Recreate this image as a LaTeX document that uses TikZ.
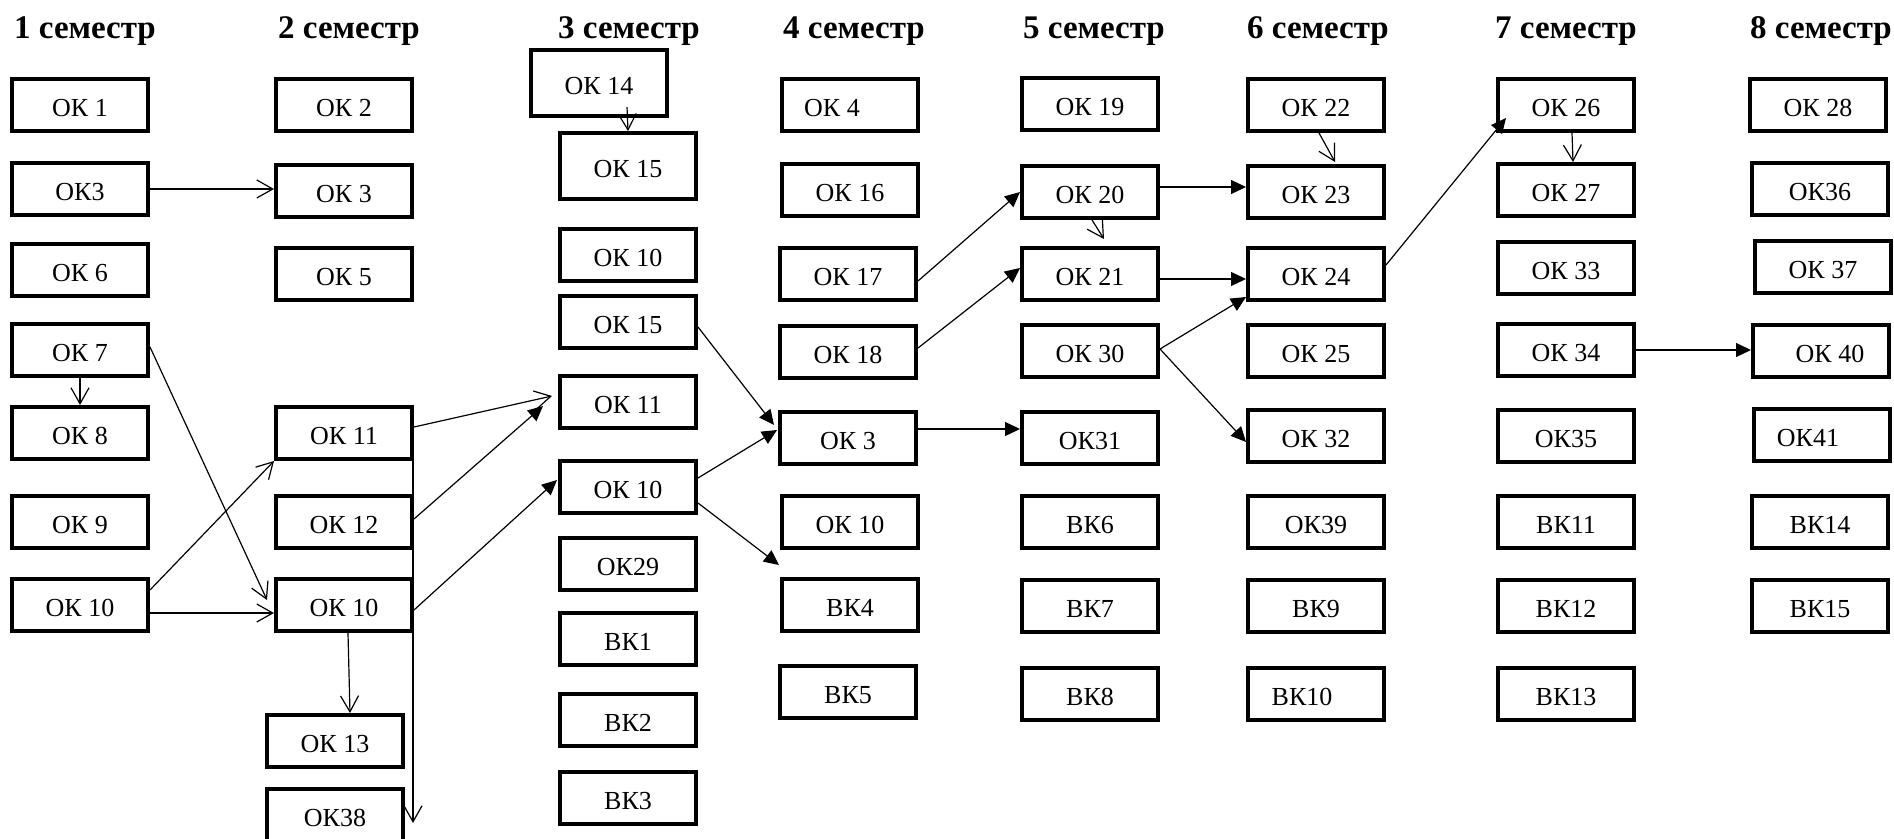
\documentclass[tikz,border=0pt]{standalone}
\usepackage{fontspec}
\setmainfont{Liberation Serif}
\usetikzlibrary{arrows.meta}
\tikzset{course/.style={draw,line width=2.2pt,minimum width=67.8pt,minimum height=25.8pt,
                        inner sep=0pt,font=\fontsize{13}{15}\selectfont,text height=11.6pt,text depth=0pt},
         tall/.style={minimum height=32.8pt},
         semtitle/.style={font=\bfseries\fontsize{16.5}{19}\selectfont,anchor=base,inner sep=0pt},
         barb/.style={line width=0.6pt,-{Straight Barb[length=8pt,width=9pt]}},
         tri/.style={line width=0.6pt,-{Triangle[length=7.5pt,width=7pt]}},
         }
\begin{document}
\begin{tikzpicture}[x=0.5pt,y=-0.5pt]
\useasboundingbox (0,0) rectangle (1894,839);
\node[semtitle] (t1) at (85,39) {1 семестр};
\node[semtitle] (t2) at (349,39) {2 семестр};
\node[semtitle] (t3) at (629,39) {3 семестр};
\node[semtitle] (t4) at (854,39) {4 семестр};
\node[semtitle] (t5) at (1094,39) {5 семестр};
\node[semtitle] (t6) at (1318,39) {6 семестр};
\node[semtitle] (t7) at (1566,39) {7 семестр};
\node[semtitle] (t8) at (1821,39) {8 семестр};

\node[course] (s1n1) at (80,105) {ОК 1};
\node[course] (s1n2) at (80,189) {ОК3};
\node[course] (s1n3) at (80,270) {ОК 6};
\node[course] (s1n4) at (80,350) {ОК 7};
\node[course] (s1n5) at (80,433) {ОК 8};
\node[course] (s1n6) at (80,522) {ОК 9};
\node[course] (s1n7) at (80,605) {ОК 10};

\node[course] (s2n1) at (344,105) {ОК 2};
\node[course] (s2n2) at (344,191) {ОК 3};
\node[course] (s2n3) at (344,274) {ОК 5};
\node[course] (s2n4) at (344,433) {ОК 11};
\node[course] (s2n5) at (344,522) {ОК 12};
\node[course] (s2n6) at (344,605) {ОК 10};
\node[course] (s2n7) at (335,741) {ОК 13};
\node[course] (s2n8) at (335,815) {ОК38};
\coordinate (s2end) at (413,823);

\node[course,tall] (s3n1) at (599,83) {ОК 14};
\node[course,tall] (s3n2) at (628,166) {ОК 15};
\node[course] (s3n3) at (628,255) {ОК 10};
\node[course] (s3n4) at (628,322) {ОК 15};
\node[course] (s3n5) at (628,402) {ОК 11};
\node[course] (s3n6) at (628,487) {ОК 10};
\node[course] (s3n7) at (628,564) {ОК29};
\node[course] (s3n8) at (628,639) {ВК1};
\node[course] (s3n9) at (628,720) {ВК2};
\node[course] (s3n10) at (628,798) {ВК3};

\node[course] (s4n1) at (850,105) {ОК 4\hspace*{18pt}};
\node[course] (s4n2) at (850,190) {ОК 16};
\node[course] (s4n3) at (848,274) {ОК 17};
\node[course] (s4n4) at (848,352) {ОК 18};
\node[course] (s4n5) at (848,438) {ОК 3};
\node[course] (s4n6) at (850,522) {ОК 10};
\node[course] (s4n7) at (850,605) {ВК4};
\node[course] (s4n8) at (848,692) {ВК5};

\node[course] (s5n1) at (1090,104) {ОК 19};
\node[course] (s5n2) at (1090,192) {ОК 20};
\node[course] (s5n3) at (1090,274) {ОК 21};
\node[course] (s5n4) at (1090,351) {ОК 30};
\node[course] (s5n5) at (1090,438) {ОК31};
\node[course] (s5n6) at (1090,522) {ВК6};
\node[course] (s5n7) at (1090,606) {ВК7};
\node[course] (s5n8) at (1090,694) {ВК8};

\node[course] (s6n1) at (1316,105) {ОК 22};
\node[course] (s6n2) at (1316,192) {ОК 23};
\node[course] (s6n3) at (1316,274) {ОК 24};
\node[course] (s6n4) at (1316,351) {ОК 25};
\node[course] (s6n5) at (1316,436) {ОК 32};
\node[course] (s6n6) at (1316,522) {ОК39};
\node[course] (s6n7) at (1316,606) {ВК9};
\node[course] (s6n8) at (1316,694) {ВК10\hspace*{14pt}};

\node[course] (s7n1) at (1566,105) {ОК 26};
\node[course] (s7n2) at (1566,190) {ОК 27};
\node[course] (s7n3) at (1566,268) {ОК 33};
\node[course] (s7n4) at (1566,350) {ОК 34};
\node[course] (s7n5) at (1566,436) {ОК35};
\node[course] (s7n6) at (1566,522) {ВК11};
\node[course] (s7n7) at (1566,606) {ВК12};
\node[course] (s7n8) at (1566,694) {ВК13};

\node[course] (s8n1) at (1818,105) {ОК 28};
\node[course] (s8n2) at (1820,189) {ОК36};
\node[course] (s8n3) at (1823,267) {ОК 37};
\node[course] (s8n4) at (1821,351) {\hspace*{9pt}ОК 40};
\node[course] (s8n5) at (1822,435) {ОК41\hspace*{14pt}};
\node[course] (s8n6) at (1820,522) {ВК14};
\node[course] (s8n7) at (1820,606) {ВК15};

\draw[barb] (s1n2.east) -- (s1n2.east -| s2n2.west);
\draw[barb] (s1n4.south) -- (s1n5.north);
\draw[barb] ([shift={(0,-3)}]s1n4.east) -- ([shift={(-7,-5)}]s2n6.west);
\draw[barb] ([shift={(0,-15)}]s1n7.east) -- (s2n4.south west);
\draw[barb] ([yshift=-4pt]s1n7.east) -- ([yshift=-4pt]s2n6.west);
\draw[barb] ([xshift=2pt]s2n6.south) -- ([xshift=7.5pt]s2n7.north);
\draw[barb] (s2n4.south east -| s2end) -- (s2end);
\draw[barb] ([yshift=3pt]s2n4.east) -- ([shift={(-6,-6)}]s3n5.west);
\draw[tri] ([yshift=1.5pt]s2n5.east) -- ([shift={(-15,4)}]s3n5.west);
\draw[tri] ([yshift=-2.5pt]s2n6.east) -- ([shift={(-1,-7)}]s3n6.west);
\draw[barb] ([shift={(28,-11)}]s3n1.south) -- (s3n2.north);
\draw[tri] ([yshift=-2.5pt]s3n4.east) -- ([shift={(-4,-13)}]s4n5.west);
\draw[tri] ([yshift=4.5pt]s3n6.east) -- ([shift={(-1,-8)}]s4n5.west);
\draw[tri] ([yshift=-8pt]s3n6.east) -- ([shift={(-1,-12)}]s4n7.north west);
\draw[tri] ([yshift=4.5pt]s4n5.east) -- ([yshift=4.5pt]s5n5.west);
\draw[tri] ([yshift=-3.5pt]s4n3.east) -- (s5n2.west);
\draw[tri] ([yshift=2pt]s4n4.east) -- ([yshift=3pt]s5n3.west);
\draw[barb] ([xshift=1pt]s5n2.south) -- ([shift={(14,-7)}]s5n3.north);
\draw[tri] ([yshift=2.5pt]s5n2.east) -- ([yshift=2.5pt]s6n2.west);
\draw[tri] ([yshift=-2.5pt]s5n3.east) -- ([yshift=-2.5pt]s6n3.west);
\draw[tri] ([yshift=1pt]s5n4.east) -- ([yshift=2.5pt]s6n3.south west);
\draw[tri] ([yshift=1pt]s5n4.east) -- ([yshift=-3pt]s6n5.west);
\draw[barb] ([xshift=1.5pt]s6n1.south) -- ([shift={(19,-2)}]s6n2.north);
\draw[tri] ([yshift=4.5pt]s6n3.east) -- ([shift={(10,-15)}]s7n1.south west);
\draw[barb] ([xshift=3pt]s7n1.south) -- ([xshift=3.5pt]s7n2.north);
\draw[tri] (s7n4.east) -- (s7n4.east -| s8n4.west);
\end{tikzpicture}
\end{document}
